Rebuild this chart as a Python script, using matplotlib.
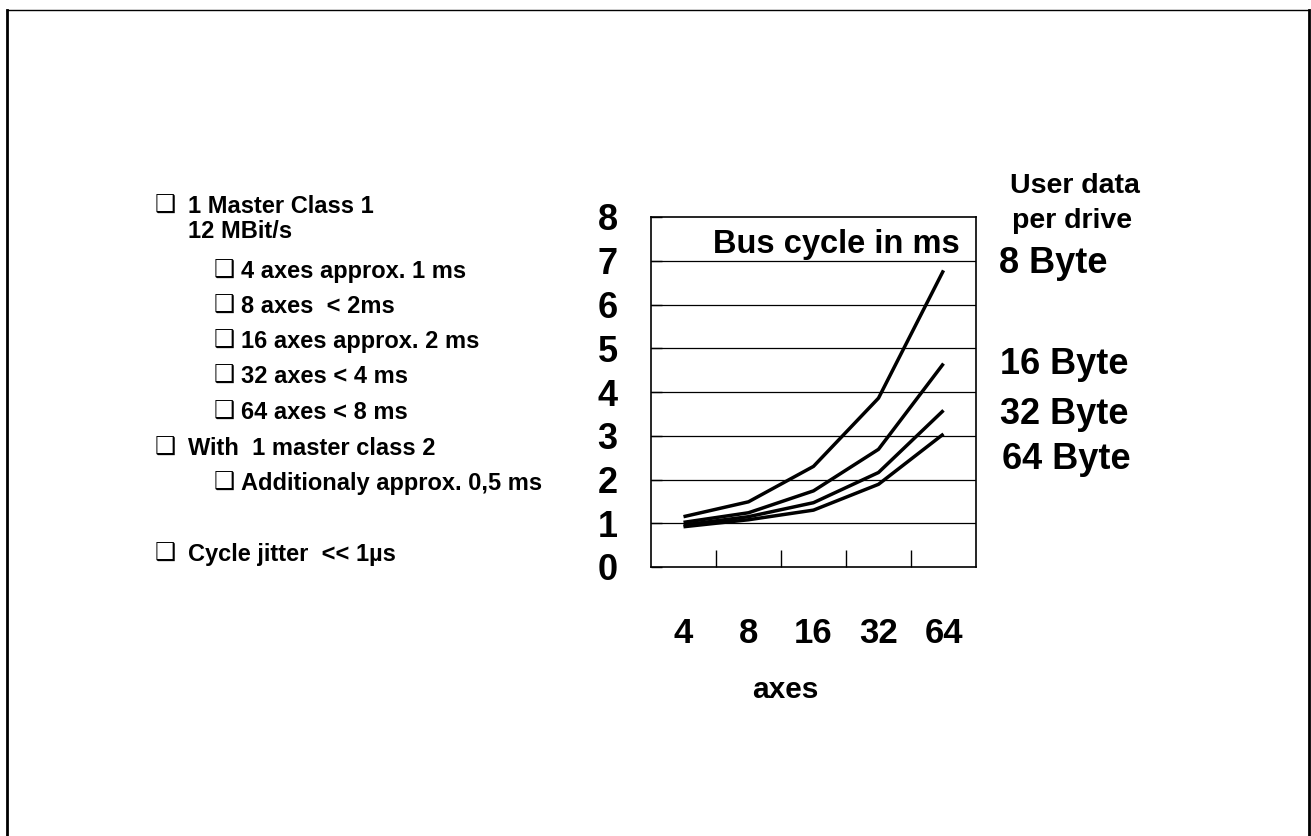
import matplotlib.pyplot as plt
from matplotlib.lines import Line2D

plt.rcParams['font.family'] = ['Liberation Sans', 'DejaVu Sans']
plt.rcParams['font.weight'] = 'bold'

# ---- data ----
axes_counts = ["4", "8", "16", "32", "64"]
byte_8 = [1.15, 1.49, 2.30, 3.86, 6.78]
byte_16 = [1.02, 1.24, 1.74, 2.69, 4.65]
byte_32 = [0.96, 1.15, 1.47, 2.16, 3.58]
byte_64 = [0.92, 1.08, 1.30, 1.89, 3.04]
y_ticks = [0, 1, 2, 3, 4, 5, 6, 7, 8]

W, H = 1311, 836
fig = plt.figure(figsize=(W / 100, H / 100), dpi=100)


def fx(px):
    return px / W


def fy(py):
    return 1 - py / H


# outer frame of the slide
fig.add_artist(Line2D([fx(7), fx(7)], [0, fy(10)], color="black", lw=2.0))
fig.add_artist(Line2D([fx(7), fx(1309)], [fy(10), fy(10)], color="black", lw=1.0))
fig.add_artist(Line2D([fx(1309), fx(1309)], [0, fy(10)], color="black", lw=2.0))

# ---- chart ----
ax = fig.add_axes([fx(651), fy(567), 325 / W, 350 / H])
x = range(len(axes_counts))
for series in (byte_8, byte_16, byte_32, byte_64):
    ax.plot(x, series, color="black", lw=2.5, solid_capstyle="butt")

ax.set_xlim(-0.5, 4.5)
ax.set_ylim(0, 8)
ax.set_yticks(y_ticks)
ax.set_yticklabels([str(v) for v in y_ticks], fontsize=26, fontweight="bold")
ax.tick_params(axis="y", direction="in", length=8, width=1, pad=24)
for v in y_ticks[1:-1]:
    ax.axhline(v, color="black", lw=0.9, zorder=0)

ax.set_xticks([0.5, 1.5, 2.5, 3.5], minor=True)
ax.set_xticks(list(x))
ax.set_xticklabels(axes_counts, fontsize=25, fontweight="bold")
ax.tick_params(axis="x", which="major", length=0, pad=36)
ax.tick_params(axis="x", which="minor", direction="in", length=12, width=1)
for s in ax.spines.values():
    s.set_linewidth(1.2)

fig.text(fx(785), fy(698), "axes", fontsize=21.5, ha="center", va="baseline")
fig.text(fx(713), fy(253), "Bus cycle in ms", fontsize=23.5, ha="left", va="baseline")

# ---- right-hand labels ----
fig.text(fx(1075), fy(193), "User data", fontsize=20.5, ha="center", va="baseline")
fig.text(fx(1072), fy(228), "per drive", fontsize=20.5, ha="center", va="baseline")
fig.text(fx(999), fy(273), "8 Byte", fontsize=26, ha="left", va="baseline")
fig.text(fx(1000), fy(374), "16 Byte", fontsize=26, ha="left", va="baseline")
fig.text(fx(1000), fy(424), "32 Byte", fontsize=26, ha="left", va="baseline")
fig.text(fx(1002), fy(469), "64 Byte", fontsize=26, ha="left", va="baseline")

# ---- bullet list on the left ----
bullets = [
    (155, 188, 213, True, "1 Master Class 1"),
    (155, 188, 238, False, "12 MBit/s"),
    (214, 241, 278, True, "4 axes approx. 1 ms"),
    (214, 241, 313, True, "8 axes  < 2ms"),
    (214, 241, 348, True, "16 axes approx. 2 ms"),
    (214, 241, 383, True, "32 axes < 4 ms"),
    (214, 241, 419, True, "64 axes < 8 ms"),
    (155, 188, 455, True, "With  1 master class 2"),
    (214, 241, 490, True, "Additionaly approx. 0,5 ms"),
    (155, 188, 561, True, "Cycle jitter  << 1µs"),
]
for bx, tx, ty, has_box, label in bullets:
    if has_box:
        fig.text(fx(bx), fy(ty), "\u2751", fontsize=17, ha="left", va="baseline",
                 family=["DejaVu Sans"], fontweight="normal")
    fig.text(fx(tx), fy(ty), label, fontsize=17, ha="left", va="baseline")

fig.savefig("out.png", dpi=100)
